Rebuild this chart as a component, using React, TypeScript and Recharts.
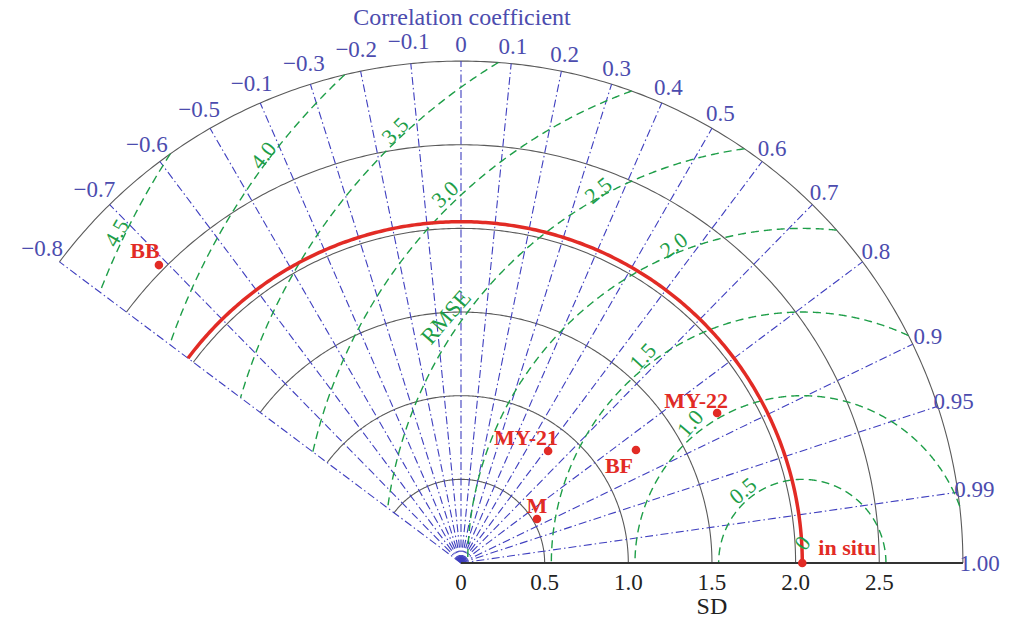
import React from 'react';
import { ScatterChart, Scatter, XAxis, YAxis } from 'recharts';

// ---- layout ----
const W = 1009;
const H = 621;
const PX = 167.3; // pixels per SD unit
const OX = 461; // pixel of origin
const OY = 563;
const X_DOMAIN: [number, number] = [-OX / PX, (W - OX) / PX];
const Y_DOMAIN: [number, number] = [-(H - OY) / PX, OY / PX];
const FONT = "'Liberation Serif', 'Times New Roman', serif";

// ---- data ----
const corrTicks = [-0.8, -0.7, -0.6, -0.5, -0.4, -0.3, -0.2, -0.1, 0, 0.1, 0.2, 0.3, 0.4, 0.5, 0.6, 0.7, 0.8, 0.9, 0.95, 0.99, 1.0];
const corrTickLabels = ['−0.8', '−0.7', '−0.6', '−0.5', '−0.1', '−0.3', '−0.2', '−0.1', '0', '0.1', '0.2', '0.3', '0.4', '0.5', '0.6', '0.7', '0.8', '0.9', '0.95', '0.99', '1.00'];
const sdArcs = [0.5, 1.0, 1.5, 2.0, 2.5, 3.0];
const sdTicks = [0, 0.5, 1.0, 1.5, 2.0, 2.5];
const sdTickLabels = ['0', '0.5', '1.0', '1.5', '2.0', '2.5'];
const rmseLevels = [0.5, 1.0, 1.5, 2.0, 2.5, 3.0, 3.5, 4.0, 4.5];
const rmseLabels = ['0', '0.5', '1.0', '1.5', '2.0', '2.5', '3.0', '3.5', '4.0', '4.5'];
const refSD = 2.04;
const refName = 'in situ';
const models = ['M', 'MY-21', 'BF', 'MY-22', 'BB'];
const modelSD = [0.525, 0.848, 1.245, 1.774, 2.536];
const modelCorr = [0.865, 0.614, 0.84, 0.863, -0.712];

// ---- label placement (styles) ----
const rmseLabelDist = [0.12, 0.56, 1.07, 1.56, 2.05, 2.54, 3.07, 3.55, 4.04, 4.55];
const rmseLabelAngle = [90, 129.4, 128.8, 127.7, 112, 118.7, 134.1, 133.3, 142.9, 154.3];
const rmseLabelRot = [-55, -40, -49, -47, -35, -39, -43, -45, -52, -60];
const modelLabelDx = [0, -22, -17, -21, -14];
const modelLabelDy = [-6, -6, 23, -5, -7];

const C_BLUE_TXT = '#4c4cae';
const C_BLUE = '#3f3fbf';
const C_GREEN = '#1e9e48';
const C_RED = '#e22b25';
const C_GRAY = '#5a5a5a';

const TH_MAX = Math.acos(-0.8);
const RMAX = 3.0;

type P = { x: number; y: number; [k: string]: any };

function polarArc(r: number): P[] {
  const pts: P[] = [];
  const n = 300;
  for (let i = 0; i <= n; i++) {
    const a = (TH_MAX * i) / n;
    pts.push({ x: r * Math.cos(a), y: r * Math.sin(a) });
  }
  return pts;
}

function inWedge(x: number, y: number) {
  const r = Math.hypot(x, y);
  const a = Math.atan2(y, x);
  return r <= RMAX + 1e-9 && y >= -1e-9 && a <= TH_MAX + 1e-9;
}

function rmseArc(R: number): P[] {
  const f = (phi: number) => ({ x: refSD + R * Math.cos(phi), y: R * Math.sin(phi) });
  const n = 900;
  const phis: number[] = [];
  for (let i = 0; i <= n; i++) phis.push((Math.PI * i) / n);
  const inside = phis.map((p) => { const q = f(p); return inWedge(q.x, q.y); });
  const i0 = inside.indexOf(true);
  const i1 = inside.lastIndexOf(true);
  if (i0 < 0) return [];
  const bis = (a: number, b: number) => {
    for (let k = 0; k < 40; k++) {
      const m = (a + b) / 2;
      const q = f(m);
      if (inWedge(q.x, q.y)) b = m; else a = m;
    }
    return b;
  };
  const pts: P[] = [];
  if (i0 > 0) pts.push(f(bis(phis[i0 - 1], phis[i0])));
  for (let i = i0; i <= i1; i++) pts.push(f(phis[i]));
  if (i1 < n) pts.push(f(bis(phis[i1 + 1], phis[i1])));
  return pts;
}

const polar = (r: number, corr: number) => {
  const a = Math.acos(corr);
  return { x: r * Math.cos(a), y: r * Math.sin(a) };
};

const corrLabelData = corrTicks.map((c, i) => ({ ...polar(c < 0 ? 3.13 : 3.1, c), label: corrTickLabels[i] }));
const sdLabelData = sdTicks.map((s, i) => ({ x: s, y: -19 / PX, label: sdTickLabels[i] }));
const rmseLabelData = rmseLabels.map((l, i) => {
  const a = (rmseLabelAngle[i] * Math.PI) / 180;
  return { x: refSD + rmseLabelDist[i] * Math.cos(a), y: rmseLabelDist[i] * Math.sin(a), label: l, rot: rmseLabelRot[i] };
});
const modelData = models.map((m, i) => ({ ...polar(modelSD[i], modelCorr[i]), label: m, dx: modelLabelDx[i], dy: modelLabelDy[i] }));
const refData = [{ x: refSD, y: 0, label: refName }];

const none = () => <g />;

const textShape = (size: number, fill: string, weight: string | number = 'normal', baseline: string = 'central') => (p: any) => (
  <text
    x={p.cx}
    y={p.cy}
    textAnchor="middle"
    dominantBaseline={baseline}
    fontFamily={FONT}
    fontSize={size}
    fontWeight={weight}
    fill={fill}
    transform={p.payload.rot ? `rotate(${p.payload.rot} ${p.cx} ${p.cy})` : undefined}
  >
    {p.payload.label}
  </text>
);

export default function App() {
  return (
    <div style={{ position: 'absolute', left: 0, top: 0, width: W, height: H, background: '#fff' }}>
      <ScatterChart width={W} height={H} margin={{ top: 0, right: 0, bottom: 0, left: 0 }}>
        <XAxis type="number" dataKey="x" domain={X_DOMAIN} hide allowDataOverflow />
        <YAxis type="number" dataKey="y" domain={Y_DOMAIN} hide allowDataOverflow />

        {sdArcs.map((r) => (
          <Scatter
            key={`sd${r}`}
            data={polarArc(r)}
            shape={none}
            line={{ stroke: C_GRAY, strokeWidth: 1.1 }}
            isAnimationActive={false}
          />
        ))}

        {corrTicks.map((c) => (
          <Scatter
            key={`c${c}`}
            data={[{ x: 0, y: 0 }, polar(RMAX, c)]}
            shape={none}
            line={{ stroke: C_BLUE, strokeWidth: 1.1, strokeDasharray: '8 3 1.5 3' }}
            isAnimationActive={false}
          />
        ))}

        {rmseLevels.map((R) => (
          <Scatter
            key={`rm${R}`}
            data={rmseArc(R)}
            shape={none}
            line={{ stroke: C_GREEN, strokeWidth: 1.4, strokeDasharray: '8 5' }}
            isAnimationActive={false}
          />
        ))}

        <Scatter
          data={polarArc(refSD)}
          shape={none}
          line={{ stroke: C_RED, strokeWidth: 3.5 }}
          isAnimationActive={false}
        />

        <Scatter
          data={[{ x: 0, y: 0 }, { x: RMAX, y: 0 }]}
          shape={none}
          line={{ stroke: '#333', strokeWidth: 2.2 }}
          isAnimationActive={false}
        />

        <Scatter
          data={modelData}
          isAnimationActive={false}
          shape={(p: any) => (
            <g>
              <circle cx={p.cx} cy={p.cy} r={4.3} fill={C_RED} />
              <text
                x={p.cx + p.payload.dx}
                y={p.cy + p.payload.dy}
                textAnchor="middle"
                fontFamily={FONT}
                fontSize={22}
                fontWeight="bold"
                fill={C_RED}
              >
                {p.payload.label}
              </text>
            </g>
          )}
        />
        <Scatter
          data={refData}
          isAnimationActive={false}
          shape={(p: any) => (
            <g>
              <circle cx={p.cx} cy={p.cy} r={4.3} fill={C_RED} />
              <text x={p.cx + 16} y={p.cy - 8} textAnchor="start" fontFamily={FONT} fontSize={22} fontWeight="bold" fill={C_RED}>
                {p.payload.label}
              </text>
            </g>
          )}
        />

        <Scatter data={rmseLabelData} shape={textShape(22, C_GREEN)} isAnimationActive={false} />
        <Scatter
          data={[{ x: -0.09, y: 1.47, label: 'RMSE', rot: -49 }]}
          shape={textShape(23, C_GREEN)}
          isAnimationActive={false}
        />
        <Scatter data={corrLabelData} shape={textShape(23, C_BLUE_TXT)} isAnimationActive={false} />
        <Scatter data={sdLabelData} shape={textShape(23, '#222')} isAnimationActive={false} />
        <Scatter
          data={[{ x: 1.5, y: -43 / PX, label: 'SD' }]}
          shape={textShape(24, '#222')}
          isAnimationActive={false}
        />
        <Scatter
          data={[{ x: 0.006, y: (OY - 25) / PX, label: 'Correlation coefficient' }]}
          shape={textShape(24, C_BLUE_TXT, 'normal', 'alphabetic')}
          isAnimationActive={false}
        />
      </ScatterChart>
    </div>
  );
}
